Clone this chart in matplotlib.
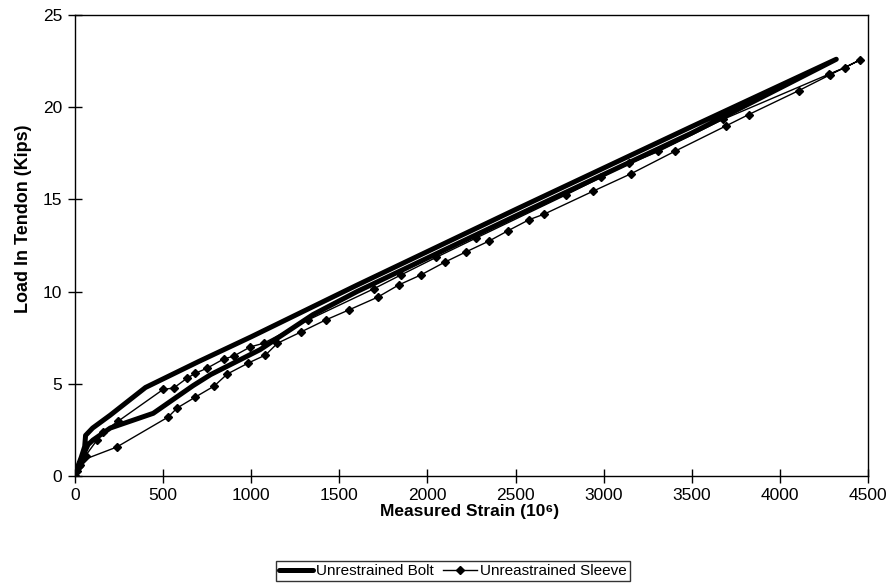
import matplotlib
matplotlib.use('Agg')
import matplotlib.pyplot as plt

plt.rcParams['font.family'] = ['Liberation Sans', 'DejaVu Sans']

# bolt: loading branch then unloading branch (strain in 10^-6, load in kips)
bolt_strain = [0, 15, 35, 55, 60, 100, 200, 400, 700, 1000, 1600, 2500, 3500, 4320,
               3500, 2500, 1600, 1350, 1200, 1050, 770, 670, 444, 200, 102, 74, 45, 20, 0]
bolt_load = [0, 0.5, 1.0, 1.6, 2.2, 2.6, 3.3, 4.8, 6.2, 7.55, 10.35, 14.45, 18.95, 22.6,
             18.6, 14.1, 10.0, 8.75, 7.8, 6.85, 5.5, 4.9, 3.4, 2.6, 1.95, 1.7, 1.1, 0.5, 0]

# sleeve: loading branch (lower) then unloading branch (upper)
sleeve_strain = [0, 10, 25, 40, 237, 529, 580, 683, 790, 864, 984, 1081, 1149, 1280, 1422,
                 1553, 1718, 1837, 1962, 2099, 2218, 2349, 2457, 2577, 2662, 2941, 3157,
                 3402, 3697, 3823, 4107, 4283, 4454,
                 4369, 4280, 3680, 3311, 3146, 2986, 2787, 2275, 2048, 1849, 1695, 1320,
                 1070, 995, 900, 843, 750, 683, 635, 560, 501, 246, 160, 125, 60, 30, 0]
sleeve_load = [0, 0.25, 0.55, 0.85, 1.57, 3.2, 3.69, 4.28, 4.88, 5.53, 6.13, 6.56, 7.2, 7.8, 8.46,
               9.0, 9.7, 10.36, 10.9, 11.6, 12.15, 12.74, 13.3, 13.9, 14.2, 15.45, 16.4,
               17.6, 19.0, 19.6, 20.9, 21.75, 22.56,
               22.15, 21.8, 19.35, 17.6, 16.95, 16.2, 15.25, 12.9, 11.85, 10.9, 10.15, 8.45,
               7.2, 7.0, 6.5, 6.34, 5.85, 5.57, 5.3, 4.77, 4.7, 2.98, 2.4, 1.95, 1.1, 0.6, 0]

fig = plt.figure(figsize=(8.95, 5.88), dpi=100)
ax = fig.add_axes([75 / 895, 1 - 476 / 588, 793 / 895, 461 / 588])

ax.plot(bolt_strain, bolt_load, color='black', lw=3.6, solid_capstyle='round',
        solid_joinstyle='round', label='Unrestrained Bolt')
ax.plot(sleeve_strain, sleeve_load, color='black', lw=1.0, marker='D', ms=4.5,
        label='Unreastrained Sleeve')

ax.set_xlim(0, 4500)
ax.set_ylim(0, 25)
ax.set_xticks(range(0, 4501, 500))
ax.set_yticks(range(0, 26, 5))
ax.tick_params(direction='inout', length=10, width=1, labelsize=12.5, pad=4)
for s in ax.spines.values():
    s.set_linewidth(1)
    s.set_color('black')

ax.set_xlabel('Measured Strain (10⁶)', fontsize=12.5, fontweight='bold')
ax.set_ylabel('Load In Tendon (Kips)', fontsize=13, fontweight='bold')
ax.xaxis.set_label_coords(0.497, -0.06)
ax.yaxis.set_label_coords(-0.054, 0.557)

leg = fig.legend(loc='center', bbox_to_anchor=(453 / 895, 1 - 571 / 588), ncol=2,
                 frameon=True, fancybox=False, edgecolor='black', fontsize=11,
                 handlelength=2.2, handletextpad=0.2, columnspacing=0.6,
                 borderpad=0.2)
leg.get_frame().set_linewidth(1)

fig.savefig('out.png', dpi=100)
